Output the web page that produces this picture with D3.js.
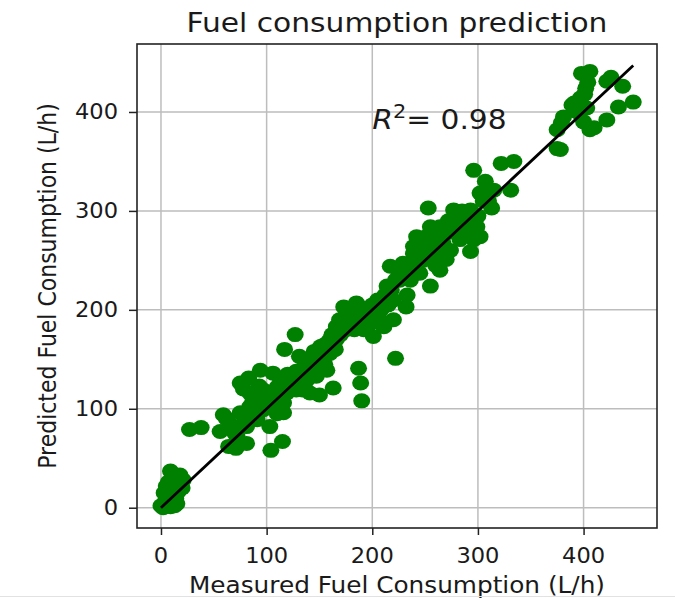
<!DOCTYPE html>
<html>
<head>
<meta charset="utf-8">
<script src="https://cdn.jsdelivr.net/npm/d3@7"></script>
<style>
  body { margin: 0; background: #fff; }
  svg { display: block; }
</style>
</head>
<body>
<script>
// Measured vs predicted fuel consumption (L/h)
const measured = [
  0, 2, 4, 7, 9, 11, 13, 6, 10, 14, 3, 8, 12, 5, 16, 18, 11, 14, 9, 18, 21, 20, 15, 7,
  27, 38,
  56, 59, 62, 65, 68, 72, 71, 64, 75, 75, 78, 81, 81, 83, 84, 84, 87, 88, 91, 93, 94, 97, 97, 100,
  103, 103, 104, 106, 108, 110, 110, 112, 113, 115, 116, 116, 119, 117, 127, 122, 128, 128, 131, 134,
  135, 138, 141, 141, 144, 147, 147, 150, 151, 155, 157, 160, 163, 160, 165, 70, 78, 85, 90, 98,
  105, 118, 125, 132, 140, 150, 158, 120, 135, 145, 150, 155,
  166, 166, 169, 172, 173, 176, 179, 182, 185, 188, 190, 192, 195, 198, 198, 201, 205, 207, 210, 211,
  214, 217, 220, 220, 222, 187, 189, 190, 170, 175, 180, 185, 195, 200, 205, 212, 218,
  162, 178, 183, 193, 203, 208, 215,
  217, 222, 226, 229, 232, 233, 236, 239, 239, 242, 245, 248, 251, 252, 253, 255, 255, 255, 258, 260,
  264, 264, 267, 267, 270, 271, 274, 277, 280, 283, 283, 286, 290, 293, 293, 296, 296, 299, 302, 302,
  307, 313, 315, 322, 331, 334, 225, 235, 245, 250, 262, 275, 290, 305,
  228, 240, 257, 265, 272, 285, 288, 300, 310,
  375, 378, 375, 379, 381, 389, 391, 394, 397, 400, 402, 403, 398, 406, 406, 410, 422, 422, 426, 433,
  437, 447, 404, 401
];
const predicted = [
  2, 0, 6, 3, 1, 5, 2, 10, 12, 9, 15, 18, 20, 22, 16, 24, 28, 33, 37, 33, 28, 20, 4, 26,
  79, 81,
  77, 94, 90, 85, 62, 72, 60, 62, 96, 126, 120, 82, 65, 131, 102, 116, 108, 93, 89, 123, 139, 99, 119, 105,
  82, 112, 58, 136, 100, 95, 122, 109, 130, 67, 106, 96, 116, 160, 175, 126, 119, 138, 153, 119,
  139, 129, 116, 145, 150, 133, 150, 114, 163, 145, 139, 156, 121, 170, 160, 75, 85, 90, 100, 110,
  115, 125, 130, 135, 142, 152, 160, 135, 150, 158, 140, 165,
  170, 183, 190, 183, 203, 196, 197, 200, 207, 203, 188, 180, 183, 190, 200, 173, 195, 190, 203, 183,
  224, 224, 210, 190, 151, 141, 126, 108, 175, 180, 185, 190, 198, 205, 210, 215, 220,
  175, 192, 180, 195, 188, 200, 205,
  244, 230, 230, 247, 203, 215, 230, 257, 264, 274, 237, 250, 274, 260, 303, 257, 224, 284, 268, 245,
  240, 284, 254, 267, 251, 278, 260, 301, 291, 271, 294, 280, 284, 259, 301, 271, 341, 284, 274, 318,
  330, 303, 321, 348, 321, 350, 235, 245, 255, 265, 262, 285, 295, 310,
  240, 250, 275, 275, 290, 300, 275, 295, 310,
  363, 362, 382, 389, 395, 407, 409, 400, 414, 390, 424, 404, 439, 441, 382, 384, 392, 431, 435, 405,
  426, 410, 430, 418
];
const xTicks = [0, 100, 200, 300, 400];
const yTicks = [0, 100, 200, 300, 400];
const identityLine = [0, 447];
const r2 = 0.98;
const titleText = "Fuel consumption prediction";
const xLabel = "Measured Fuel Consumption (L/h)";
const yLabel = "Predicted Fuel Consumption (L/h)";

const W = 675, H = 598;
const box = { left: 137, right: 657, top: 44, bottom: 528 };
const sx = 1.1; // horizontal text stretch of the figure

const svg = d3.select("body").append("svg")
  .attr("width", W).attr("height", H)
  .style("font-family", "'DejaVu Sans', sans-serif");

svg.append("rect").attr("width", W).attr("height", H).attr("fill", "#fff");

const x = d3.scaleLinear().domain([-22.7, 469.5]).range([box.left, box.right]);
const y = d3.scaleLinear().domain([-20.5, 468.7]).range([box.bottom, box.top]);

function label(px, py, str, size, anchor, rotate) {
  const g = svg.append("g")
    .attr("transform", `translate(${px},${py}) scale(${sx},1)` + (rotate ? ` rotate(${rotate})` : ""));
  return g.append("text")
    .attr("text-anchor", anchor)
    .attr("font-size", size)
    .attr("fill", "#1a1a1a")
    .text(str);
}

// grid
const grid = svg.append("g").attr("stroke", "#bdbdbd").attr("stroke-width", 1.5);
grid.selectAll("line.gx").data(xTicks).join("line")
  .attr("x1", d => x(d)).attr("x2", d => x(d))
  .attr("y1", box.top).attr("y2", box.bottom);
grid.selectAll("line.gy").data(yTicks).join("line")
  .attr("y1", d => y(d)).attr("y2", d => y(d))
  .attr("x1", box.left).attr("x2", box.right);

// scatter points
const pts = measured.map((m, i) => [m, predicted[i]]);
svg.append("g").selectAll("ellipse").data(pts).join("ellipse")
  .attr("cx", d => x(d[0])).attr("cy", d => y(d[1]))
  .attr("rx", 8.5).attr("ry", 7.5)
  .attr("fill", "#008000");

// identity line
svg.append("line")
  .attr("x1", x(identityLine[0])).attr("y1", y(identityLine[0]))
  .attr("x2", x(identityLine[1])).attr("y2", y(identityLine[1]))
  .attr("stroke", "#000").attr("stroke-width", 2.8);

// frame
svg.append("rect")
  .attr("x", box.left).attr("y", box.top)
  .attr("width", box.right - box.left).attr("height", box.bottom - box.top)
  .attr("fill", "none").attr("stroke", "#222").attr("stroke-width", 1.6);

// x axis ticks and labels
const xAxis = d3.axisBottom(x).tickValues(xTicks).tickSize(7).tickPadding(0).tickFormat(d3.format("d"));
const gx = svg.append("g").attr("transform", `translate(0,${box.bottom})`).call(xAxis);
gx.select(".domain").remove();
gx.selectAll(".tick line").attr("stroke", "#222").attr("stroke-width", 1.5);
gx.selectAll(".tick text").remove();
xTicks.forEach(t => label(x(t), 563, d3.format("d")(t), 20.5, "middle"));

// y axis ticks and labels
const yAxis = d3.axisLeft(y).tickValues(yTicks).tickSize(8).tickPadding(0).tickFormat(d3.format("d"));
const gy = svg.append("g").attr("transform", `translate(${box.left},0)`).call(yAxis);
gy.select(".domain").remove();
gy.selectAll(".tick line").attr("stroke", "#222").attr("stroke-width", 1.5);
gy.selectAll(".tick text").remove();
yTicks.forEach(t => label(118, y(t) + 7.5, d3.format("d")(t), 20.5, "end"));

// title and axis titles
label((box.left + box.right) / 2, 32, titleText, 27, "middle");
label((box.left + box.right) / 2, 593, xLabel, 22.5, "middle");
label(56, (box.top + box.bottom) / 2, yLabel, 22, "middle", -90);

// R² annotation
const rt = label(x(200), y(383), "", 27, "start");
rt.append("tspan").attr("font-style", "italic").text("R");
rt.append("tspan").attr("font-size", 19).attr("dy", -11).text("2");
rt.append("tspan").attr("dy", 11).text("= " + r2.toFixed(2));

// faint bottom edge
svg.append("line").attr("x1", 0).attr("x2", W).attr("y1", 596.5).attr("y2", 596.5)
  .attr("stroke", "#e2e2e2").attr("stroke-width", 1);
</script>
</body>
</html>
